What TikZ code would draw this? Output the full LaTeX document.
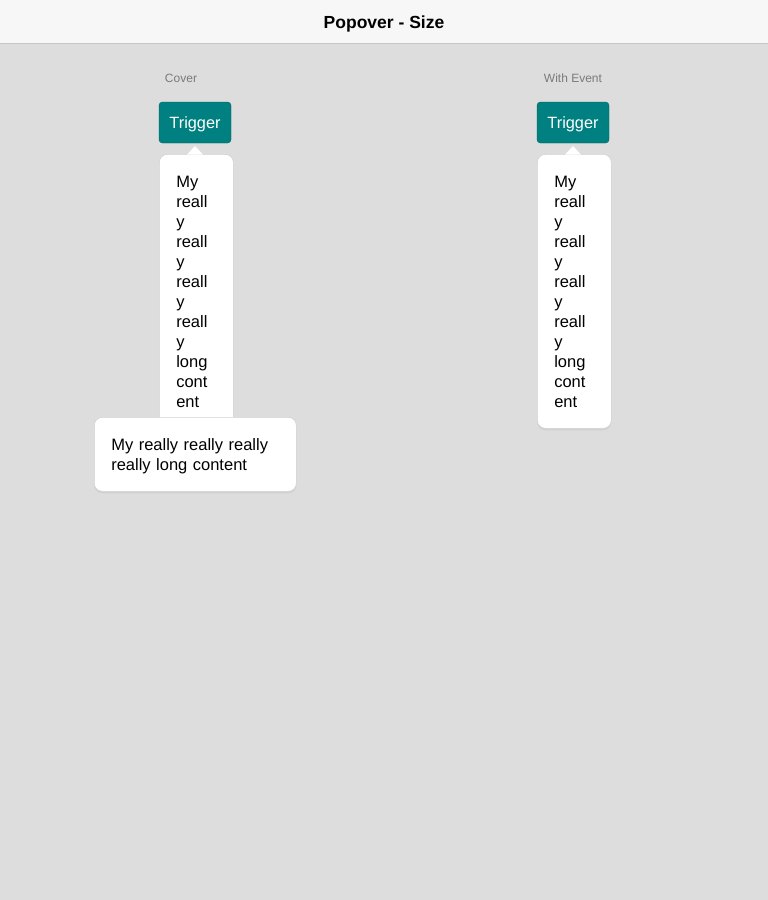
\documentclass[tikz,border=0pt]{standalone}
\usepackage{fontspec}
\setmainfont{Liberation Sans}
\usetikzlibrary{shadows}
\definecolor{pagebg}{HTML}{DDDDDD}
\definecolor{barbg}{HTML}{F7F7F7}
\definecolor{barline}{HTML}{C6C6C6}
\definecolor{teal}{HTML}{008080}
\definecolor{tealdark}{HTML}{005F5F}
\definecolor{captiongray}{HTML}{7A7A7A}
\definecolor{popline}{HTML}{D2D2D2}
\tikzset{
  caption/.style={
    text=captiongray,
    font=\fontsize{12}{14}\selectfont,
  },
  trigger/.style={
    rounded corners=3.5pt,
    draw=tealdark,
    fill=teal,
    text=white,
    minimum width=72pt,
    minimum height=41pt,
    inner sep=0pt,
    text height=12pt,
    text depth=0pt,
    font=\fontsize{16.3}{20}\selectfont,
  },
  popover/.style={
    rounded corners=8pt,
    draw=popline,
    line width=0.6pt,
    fill=white,
    align=left,
    inner xsep=17pt,
    inner ysep=0pt,
    font=\fontsize{16.5}{20}\selectfont,
    drop shadow={opacity=0.12, shadow xshift=0pt, shadow yshift=-2pt},
  },
}

\begin{document}
\begin{tikzpicture}[x=1pt, y=-1pt]
      \fill[pagebg] (0,0) rectangle (768,900);
      \useasboundingbox (0,0) rectangle (768,900);
      \fill[barbg] (0,0) rectangle (768,43);
      \draw[barline, line width=1pt] (0,43.5) -- (768,43.5);
      \node[font=\fontsize{17.5}{20}\selectfont\bfseries] (title) at (384,23.5) {Popover - Size};

      % left column
      \node[caption] (cover) at (181,78) {Cover};
      \node[trigger] (trig1) at (195,122.5) {Trigger};
      \node[popover, text width=40pt, minimum height=274pt, anchor=north west,
            text height=12pt] (pop1) at (159,154)
        {My\\reall\\y\\reall\\y\\reall\\y\\reall\\y\\long\\cont\\ent};
      \fill[white] (187,154.6) -- (195,146) -- (203,154.6) -- cycle;
      \node[popover, text width=168pt, minimum height=74pt, anchor=north west,
            text height=16pt] (pop2) at (94,417)
        {My really really really\\really long content};

      % right column
      \node[caption] (event) at (573,78) {With Event};
      \node[trigger] (trig2) at (573,122.5) {Trigger};
      \node[popover, text width=40pt, minimum height=274pt, anchor=north west,
            text height=12pt] (pop3) at (537,154)
        {My\\reall\\y\\reall\\y\\reall\\y\\reall\\y\\long\\cont\\ent};
      \fill[white] (565,154.6) -- (573,146) -- (581,154.6) -- cycle;
    \end{tikzpicture}
\end{document}
